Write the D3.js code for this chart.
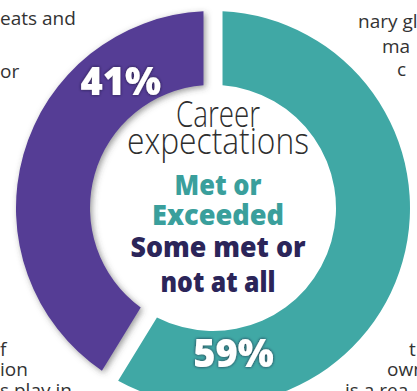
<!DOCTYPE html>
<html>
<head>
<meta charset="utf-8">
<script src="https://cdn.jsdelivr.net/npm/d3@7"></script>
<style>
    html, body { margin: 0; padding: 0; background: #fff; }
    svg { display: block; }
</style>
</head>
<body>
<svg id="chart" width="417" height="391"></svg>
<script>
// chart data
const categories = ['Met or Exceeded', 'Some met or not at all'];
const shares = [59, 41];
const shareLabels = ['59%', '41%'];
const titleLines = ['Career', 'expectations'];
const metLines = ['Met or', 'Exceeded'];
const notMetLines = ['Some met or', 'not at all'];

// bits of the magazine article running round the chart
const leftTopText = ['eats and', 'or'];
const rightTopText = ['nary gl', 'ma', 'c'];
const leftBottomText = ['f', 'ion', 's play in'];
const rightBottomText = ['t', 'own', 'is a rea'];

const svg = d3.select('#chart');
const cx = 213, cy = 208, rOut = 197, rIn = 123;

let colour = d3.scaleOrdinal()
    .domain(categories)
    .range(['#40a8a5', '#553c95']);

let defs = svg.append('defs');
let shade = defs.append('filter').attr('id', 'shade')
    .attr('x', '-20%').attr('y', '-20%').attr('width', '140%').attr('height', '140%');
shade.append('feDropShadow')
    .attr('dx', 2).attr('dy', 2).attr('stdDeviation', 3)
    .attr('flood-color', '#444').attr('flood-opacity', 0.55);

let glow = defs.append('filter').attr('id', 'glow')
    .attr('x', '-20%').attr('y', '-20%').attr('width', '140%').attr('height', '140%');
glow.append('feDropShadow')
    .attr('dx', 0).attr('dy', 0).attr('stdDeviation', 1.6)
    .attr('flood-color', '#1d1535').attr('flood-opacity', 0.9);

let pie = d3.pie().sort(null).padAngle(0.082).value(d => d.value);
let slices = pie(categories.map((c, i) => ({ category: c, value: shares[i], label: shareLabels[i] })));
let arc = d3.arc().innerRadius(rIn).outerRadius(rOut);

let ring = svg.append('g').attr('transform', `translate(${cx}, ${cy})`);

ring.selectAll('path.slice')
    .data(slices)
    .join('path')
    .attr('class', 'slice')
    .attr('d', arc)
    .attr('fill', d => colour(d.data.category))
    .attr('filter', d => d.index === 1 ? 'url(#shade)' : null);

// percent labels sit inside their slice
const labelSpots = [[172, 147], [-36, 157]];
ring.selectAll('text.pct')
    .data(slices)
    .join('text')
    .attr('class', 'pct')
    .attr('transform', d => {
        let s = labelSpots[d.index];
        let p = d3.pointRadial(s[0] * Math.PI / 180, s[1]);
        return `translate(${p[0]}, ${p[1]})`;
    })
    .attr('text-anchor', 'middle')
    .attr('dy', '0.36em')
    .style('font-family', '"Open Sans", sans-serif')
    .style('font-weight', 800)
    .style('font-size', '38px')
    .style('fill', '#fff')
    .attr('filter', 'url(#glow)')
    .text(d => d.data.label);

// centre text
let centre = svg.append('g').attr('class', 'centre');
const tx = 218;

function addLine(txt, y, len, size, weight, fill) {
    centre.append('text')
        .attr('x', tx)
        .attr('y', y)
        .attr('text-anchor', 'middle')
        .attr('textLength', len)
        .attr('lengthAdjust', 'spacingAndGlyphs')
        .style('font-family', '"Open Sans", sans-serif')
        .style('font-size', size + 'px')
        .style('font-weight', weight)
        .style('fill', fill)
        .text(txt);
}

addLine(titleLines[0], 127, 84, 36, 300, '#2e2e2e');
addLine(titleLines[1], 154, 182, 36, 300, '#2e2e2e');
addLine(metLines[0], 195, 87, 29, 800, '#3a9f9c');
addLine(metLines[1], 225, 132, 29, 800, '#3a9f9c');
addLine(notMetLines[0], 257, 175, 29, 800, '#2b2559');
addLine(notMetLines[1], 292, 115, 29, 800, '#2b2559');

// article text around the edges
let body = svg.append('g')
    .style('font-family', '"Open Sans", sans-serif')
    .style('font-size', '19px')
    .style('fill', '#333');

function addBody(lines, x, ys, anchor) {
    body.selectAll(null)
        .data(lines)
        .join('text')
        .attr('x', (d, i) => Array.isArray(x) ? x[i] : x)
        .attr('y', (d, i) => ys[i])
        .attr('text-anchor', anchor)
        .text(d => d);
}

addBody(leftTopText, 0, [25, 78], 'start');
addBody(rightTopText, [358, 382, 397], [28, 53, 76], 'start');
addBody(leftBottomText, 0, [356, 376, 397], 'start');
addBody(rightBottomText, [409, 387, 345], [356, 376, 397], 'start');
</script>
</body>
</html>
